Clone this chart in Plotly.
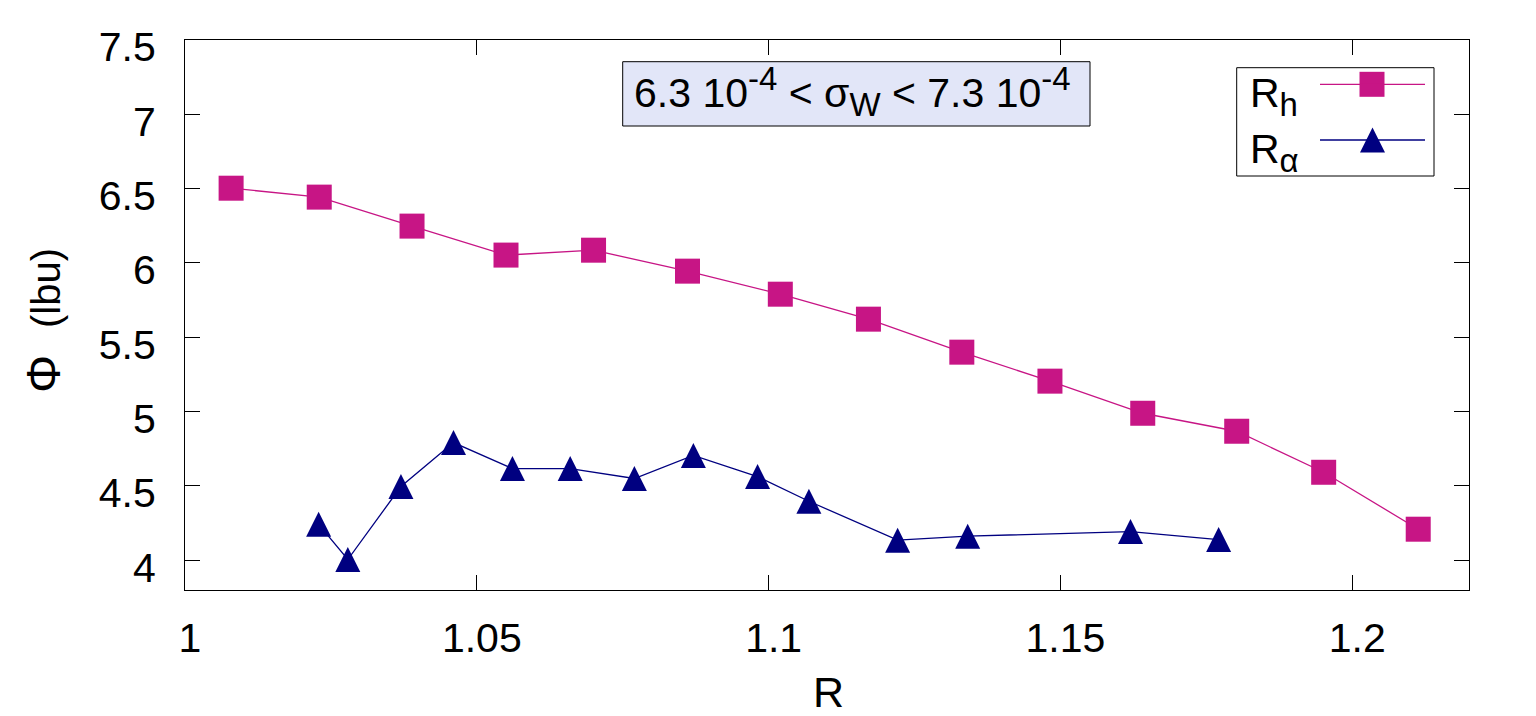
import plotly.graph_objects as go

# ---------------- data ----------------
Rh_x = [1.0079, 1.0230, 1.0389, 1.0550, 1.0700, 1.0861, 1.1020, 1.1171,
        1.1331, 1.1482, 1.1641, 1.1802, 1.1951, 1.2113]
Rh_y = [6.503, 6.443, 6.248, 6.053, 6.086, 5.945, 5.790, 5.622,
        5.400, 5.205, 4.989, 4.868, 4.592, 4.209]

Ra_x = [1.0229, 1.0279, 1.0370, 1.0460, 1.0561, 1.0660, 1.0770, 1.0871,
        1.0981, 1.1069, 1.1221, 1.1341, 1.1620, 1.1771]
Ra_y = [4.242, 4.005, 4.496, 4.792, 4.617, 4.617, 4.550, 4.705,
        4.563, 4.397, 4.135, 4.162, 4.193, 4.139]

x_ticks = [1.0, 1.05, 1.1, 1.15, 1.2]
x_labels = ["1", "1.05", "1.1", "1.15", "1.2"]
y_ticks = [4, 4.5, 5, 5.5, 6, 6.5, 7, 7.5]
y_labels = ["4", "4.5", "5", "5.5", "6", "6.5", "7", "7.5"]

MAGENTA = "#C71585"
NAVY = "#000080"
FONT = "Liberation Sans, Arial, Helvetica, sans-serif"
FS = 41          # main text size
FS_SMALL = 33    # sub/superscript size

W, H = 1536, 716
L, R, T, B = 185, 67, 40, 126
PW, PH = W - L - R, H - T - B


def px(x):
    return (x - L) / PW


def py(y):
    return (H - B - y) / PH


def sub(t):
    return "<sub><span style='font-size:%dpx'>%s</span></sub>" % (FS_SMALL, t)


def sup(t):
    return "<sup><span style='font-size:%dpx'>%s</span></sup>" % (FS_SMALL, t)


TRI = dict(symbol="arrow-down", angle=180, size=25, standoff=12.5,
           color=NAVY, line=dict(width=0))
SQ = dict(symbol="square", size=25, color=MAGENTA, line=dict(width=0))

fig = go.Figure()
fig.add_trace(go.Scatter(x=Rh_x, y=Rh_y, mode="lines+markers", name="R_h",
                         line=dict(color=MAGENTA, width=1.3, backoff=0),
                         marker=SQ, showlegend=False))
fig.add_trace(go.Scatter(x=Ra_x, y=Ra_y, mode="lines+markers", name="R_alpha",
                         line=dict(color=NAVY, width=1.3, backoff=0),
                         marker=TRI, showlegend=False))

# legend sample markers on an overlay axis in paper units
fig.add_trace(go.Scatter(x=[px(1372)], y=[py(84.3)], mode="markers", marker=SQ,
                         xaxis="x2", yaxis="y2", showlegend=False, hoverinfo="skip"))
fig.add_trace(go.Scatter(x=[px(1372.5)], y=[py(140)], mode="markers", marker=TRI,
                         xaxis="x2", yaxis="y2", showlegend=False, hoverinfo="skip"))

axis_common = dict(showline=True, linecolor="black", linewidth=1, mirror="ticks",
                   ticks="inside", ticklen=15, tickwidth=1, tickcolor="black",
                   showgrid=False, zeroline=False,
                   tickfont=dict(family=FONT, size=FS, color="black"))

fig.update_layout(
    width=W, height=H,
    margin=dict(l=L, r=R, t=T, b=B, autoexpand=False),
    paper_bgcolor="white", plot_bgcolor="white",
    showlegend=False,
    xaxis=dict(range=[1.0, 1.22], tickvals=x_ticks, ticktext=x_labels,
               ticklabelstandoff=12, ticklabelshift=5, **axis_common),
    yaxis=dict(range=[3.8, 7.5], tickvals=y_ticks, ticktext=y_labels,
               ticklabelstandoff=20, ticklabelshift=7, **axis_common),
    xaxis2=dict(range=[0, 1], domain=[0, 1], visible=False, overlaying="x"),
    yaxis2=dict(range=[0, 1], domain=[0, 1], visible=False, overlaying="y"),
)

shapes = []
# info box
shapes.append(dict(type="rect", xref="paper", yref="paper",
                   x0=px(622.7), x1=px(1090), y0=py(126), y1=py(61.7),
                   fillcolor="#E2E6F8", line=dict(color="black", width=1), layer="above"))
# legend box
shapes.append(dict(type="rect", xref="paper", yref="paper",
                   x0=px(1236.7), x1=px(1434), y0=py(176), y1=py(67.7),
                   fillcolor="rgba(0,0,0,0)", line=dict(color="black", width=1)))
# legend sample lines
shapes.append(dict(type="line", xref="paper", yref="paper",
                   x0=px(1320), x1=px(1425), y0=py(84.3), y1=py(84.3),
                   line=dict(color=MAGENTA, width=1.3)))
shapes.append(dict(type="line", xref="paper", yref="paper",
                   x0=px(1320), x1=px(1425), y0=py(140), y1=py(140),
                   line=dict(color=NAVY, width=1.3)))
fig.update_layout(shapes=shapes)

info_text = ("6.3 10" + sup("-4") + " &lt; σ" + sub("W") +
             " &lt; 7.3 10" + sup("-4"))

annotations = [
    dict(text=info_text,
         xref="paper", yref="paper", x=px(852), y=py(91), xanchor="center", yanchor="middle",
         showarrow=False, font=dict(family=FONT, size=FS, color="black")),
    dict(text="R" + sub("h"), xref="paper", yref="paper", x=px(1248), y=py(96),
         xanchor="left", yanchor="middle", showarrow=False,
         font=dict(family=FONT, size=FS, color="black")),
    dict(text="R" + sub("α"), xref="paper", yref="paper", x=px(1248), y=py(152),
         xanchor="left", yanchor="middle", showarrow=False,
         font=dict(family=FONT, size=FS, color="black")),
    dict(text="R", xref="paper", yref="paper", x=px(828), y=py(692),
         xanchor="center", yanchor="middle", showarrow=False,
         font=dict(family=FONT, size=43, color="black")),
    dict(text="Φ&nbsp;&nbsp;<span style='font-size:40px'>(lbu)</span>",
         xref="paper", yref="paper", x=px(43), y=py(321), textangle=-90,
         xanchor="center", yanchor="middle", showarrow=False,
         font=dict(family=FONT, size=48, color="black")),
]
fig.update_layout(annotations=annotations)

fig.write_html("out.html")
